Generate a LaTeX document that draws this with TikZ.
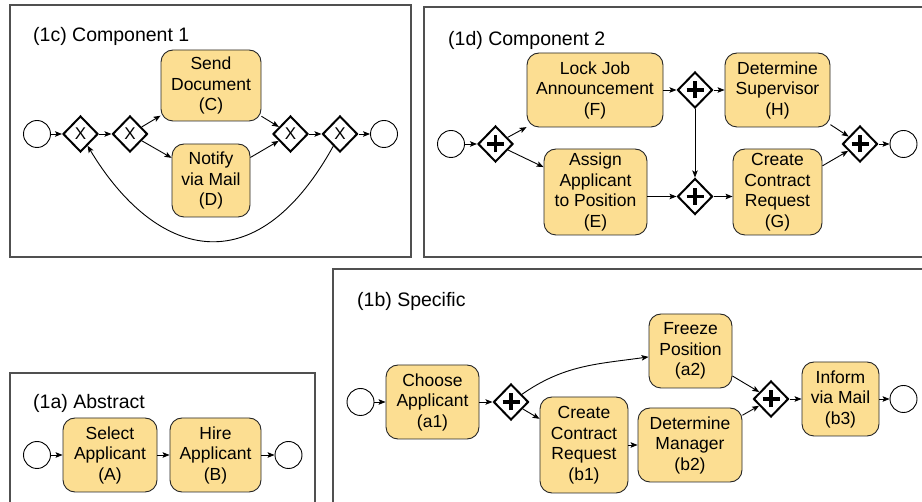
\documentclass[tikz,border=0pt]{standalone}
\usepackage{fontspec}
\setmainfont{Liberation Sans}
\usetikzlibrary{shapes.geometric,arrows.meta}
\definecolor{taskfill}{RGB}{252,222,146}
\definecolor{framecol}{RGB}{80,80,80}
\tikzset{
  frame/.style={draw=framecol,line width=1.2pt},
  title/.style={anchor=base west,inner sep=0pt,font=\fontsize{19.5}{23}\selectfont},
  task/.style={draw=black!85,line width=0.9pt,fill=taskfill,rounded corners=12pt,
    align=center,inner sep=0pt,font=\fontsize{17.5}{20.5}\selectfont},
  event/.style={circle,draw=black,line width=0.9pt,fill=white,minimum size=27pt,inner sep=0pt},
  gw/.style={diamond,draw=black,line width=2pt,fill=white,minimum width=35pt,minimum height=36pt,inner sep=0pt},
  xgw/.style={gw,font=\fontsize{17}{17}\selectfont},
  pgw/.style={gw,path picture={
    \draw[line width=3.2pt] ([xshift=-8.5pt]path picture bounding box.center) -- ([xshift=8.5pt]path picture bounding box.center);
    \draw[line width=3.2pt] ([yshift=-8.5pt]path picture bounding box.center) -- ([yshift=8.5pt]path picture bounding box.center);}},
  flow/.style={draw=black,line width=0.9pt,-{Stealth[length=7pt,width=5.5pt,inset=1.5pt]}}
}
\begin{document}
\begin{tikzpicture}[x=1pt,y=1pt]
\useasboundingbox (0,0) rectangle (922,-502);
\clip (0,0) rectangle (922,-502);
% frames
\draw[frame] (10,-5) rectangle (411,-257);
\draw[frame] (424,-7) rectangle (935,-257);
\draw[frame] (333,-269) rectangle (935,-515);
\draw[frame] (10,-373) rectangle (315,-515);
% titles
\node[title] (t1c) at (33,-42) {(1c) Component 1};
\node[title] (t1d) at (448,-45.5) {(1d) Component 2};
\node[title] (t1b) at (357,-307) {(1b) Specific};
\node[title] (t1a) at (33,-409) {(1a) Abstract};
% ---------- 1c
\node[event] (S1) at (37,-134) {};
\node[xgw] (X1) at (80.5,-134) {X};
\node[xgw] (X2) at (130,-134) {X};
\node[task,minimum width=100pt,minimum height=71pt] (C) at (211,-85.5) {Send\\Document\\(C)};
\node[task,minimum width=78pt,minimum height=73pt] (D) at (211,-180.5) {Notify\\via Mail\\(D)};
\node[xgw] (X3) at (290.5,-134) {X};
\node[xgw] (X4) at (340,-134) {X};
\node[event] (E1) at (384,-134) {};
\draw[flow] (S1) -- (X1);
\draw[flow] (X1) -- (X2);
\draw[flow] (X2) -- (C);
\draw[flow] (X2) -- (D);
\draw[flow] (C) -- (X3);
\draw[flow] (D) -- (X3);
\draw[flow] (X3) -- (X4);
\draw[flow] (X4) -- (E1);
\draw[flow] (X4) to[out=-119,in=-59,out looseness=1.7,in looseness=1.35] (X1);
% ---------- 1d
\node[event] (S2) at (451,-144) {};
\node[pgw] (G1) at (495.5,-144) {};
\node[task,minimum width=136pt,minimum height=74pt] (F) at (595,-90) {Lock Job\\Announcement\\(F)};
\node[task,minimum width=103pt,minimum height=86pt] (E) at (595.5,-192) {Assign\\Applicant\\to Position\\(E)};
\node[pgw] (G2) at (695,-90) {};
\node[pgw] (G3) at (695,-196.5) {};
\node[task,minimum width=105pt,minimum height=74pt] (H) at (777.5,-90) {Determine\\Supervisor\\(H)};
\node[task,minimum width=89pt,minimum height=86pt] (G) at (777.5,-192) {Create\\Contract\\Request\\(G)};
\node[pgw] (G4) at (860,-144) {};
\node[event] (E2) at (903.5,-144) {};
\draw[flow] (S2) -- (G1);
\draw[flow] (G1) -- (F);
\draw[flow] (G1) -- (E);
\draw[flow] (F) -- (G2);
\draw[flow] (G2) -- (H);
\draw[flow] (G2) -- (G3);
\draw[flow] (E.east |- G3) -- (G3);
\draw[flow] (G3) -- (G.west |- G3);
\draw[flow] (H) -- (G4);
\draw[flow] (G) -- (G4);
\draw[flow] (G4) -- (E2);
% ---------- 1b
\node[event] (S3) at (360.5,-402) {};
\node[task,minimum width=93pt,minimum height=74pt] (a1) at (432.5,-402) {Choose\\Applicant\\(a1)};
\node[pgw] (P1) at (511,-402) {};
\node[task,minimum width=88pt,minimum height=96pt] (b1) at (584,-445) {Create\\Contract\\Request\\(b1)};
\node[task,minimum width=83pt,minimum height=74pt] (a2) at (690.5,-351) {Freeze\\Position\\(a2)};
\node[task,minimum width=104pt,minimum height=74pt] (b2) at (690,-445) {Determine\\Manager\\(b2)};
\node[pgw] (P2) at (771,-399) {};
\node[task,minimum width=77pt,minimum height=74pt] (b3) at (840.5,-399) {Inform\\via Mail\\(b3)};
\node[event] (E3) at (903.5,-399) {};
\draw[flow] (S3) -- (a1);
\draw[flow] (a1) -- (P1);
\draw[flow] (P1) to[out=35,in=188] (a2);
\draw[flow] (P1) -- (b1);
\draw[flow] (b1) -- (b2);
\draw[flow] (a2) -- (P2);
\draw[flow] (b2) -- (P2);
\draw[flow] (P2) -- (b3);
\draw[flow] (b3) -- (E3);
% ---------- 1a
\node[event] (S4) at (37,-455) {};
\node[task,minimum width=94pt,minimum height=74pt] (A) at (110,-455) {Select\\Applicant\\(A)};
\node[task,minimum width=91pt,minimum height=74pt] (B) at (215.5,-455) {Hire\\Applicant\\(B)};
\node[event] (E4) at (288.5,-455) {};
\draw[flow] (S4) -- (A);
\draw[flow] (A) -- (B);
\draw[flow] (B) -- (E4);
\end{tikzpicture}
\end{document}
